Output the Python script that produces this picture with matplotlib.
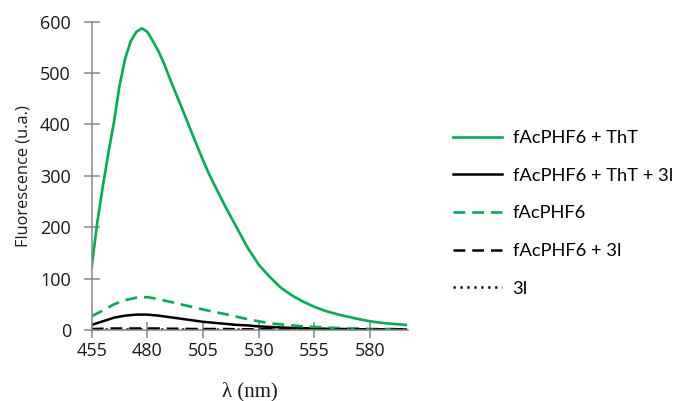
import numpy as np
import matplotlib
matplotlib.use("Agg")
import matplotlib.pyplot as plt

plt.rcParams["font.family"] = ["Open Sans", "DejaVu Sans"]
plt.rcParams["lines.scale_dashes"] = False

# wavelengths (nm)
wl_fine = [455, 457.5, 460, 462.5, 465, 467.5, 470, 472.5, 475, 477.5, 480,
           482.5, 485, 487.5, 490, 492.5, 495, 497.5, 500, 502.5, 505, 507.5,
           510, 515, 520, 525, 530, 535, 540, 545, 550, 555, 560, 565, 570,
           575, 580, 585, 590, 596]
wl = [455, 460, 465, 470, 475, 480, 485, 490, 495, 500, 505, 510, 515, 520,
      525, 530, 535, 540, 545, 550, 555, 560, 565, 570, 575, 580, 585, 590, 596]

tht = [123, 210, 280, 345, 405, 476, 528, 562, 580, 587, 580,
       562, 542, 518, 490, 463, 437, 410, 383, 356, 330, 305,
       283, 240, 200, 160, 127, 103, 82, 67, 55, 45, 37, 31, 26,
       21, 17, 14, 12, 10]
tht_3l = [10, 17, 24, 28, 30, 30, 28, 25, 22, 19, 16, 14, 12, 10,
          9, 7, 6, 5, 4, 3.5, 3, 2.5, 2, 2, 1.5, 1.5, 1, 1, 1]
phf6 = [27, 38, 50, 58, 63, 64, 60, 55, 50, 45, 40, 35, 31, 26,
        21, 17, 13, 11, 9, 7, 6, 5, 4, 3, 3, 2, 2, 2, 1]
phf6_3l = [2, 2.5, 3, 3, 3, 3, 3, 2.5, 2.5, 2, 2, 2, 2, 1.5,
           1.5, 1.5, 1.5, 1, 1, 1, 1, 1, 1, 1, 1, 1, 1, 1, 1]
only_3l = [1, 1, 1, 1, 1, 1, 1, 1, 1, 0.8, 0.8, 0.8, 0.8, 0.8,
           0.7, 0.7, 0.7, 0.6, 0.6, 0.6, 0.5, 0.5, 0.5, 0.5, 0.5, 0.5, 0.5, 0.5, 0.5]

green = "#00B050"
fig = plt.figure(figsize=(6.76, 4.01), dpi=100)
ax = fig.add_axes([0.1357, 0.177, 0.4679, 0.769])

ax.plot(wl_fine, tht, color=green, lw=1.9, label="fAcPHF6 + ThT")
ax.plot(wl, tht_3l, color="black", lw=1.8, label="fAcPHF6 + ThT + 3l")
ax.plot(wl, phf6, color=green, lw=1.9, dashes=(8.5, 5), label="fAcPHF6")
ax.plot(wl, phf6_3l, color="black", lw=1.8, dashes=(8.5, 5), label="fAcPHF6 + 3l")
ax.plot(wl, only_3l, color="black", lw=1.8, dashes=(1.6, 3.4), label="3l")

ax.set_xlim(455, 597)
ax.set_ylim(0, 600)
ax.set_xticks([455, 480, 505, 530, 555, 580])
ax.set_yticks(range(0, 601, 100))
for s in ["top", "right"]:
    ax.spines[s].set_visible(False)
for s in ["left", "bottom"]:
    ax.spines[s].set_color("#868686")
    ax.spines[s].set_linewidth(1.1)
ax.tick_params(direction="inout", length=11, width=1.1, color="#868686",
               labelsize=13, labelcolor="#1a1a1a")
ax.tick_params(axis="y", pad=9.5)
ax.tick_params(axis="x", pad=3)

ax.set_ylabel("Fluorescence (u.a.)", fontsize=11.8, color="#1a1a1a", labelpad=6)
ax.set_xlabel("λ (nm)", fontsize=15, family=["Liberation Serif", "DejaVu Serif"],
              color="#1a1a1a", labelpad=16)

fig.legend(loc="center left", bbox_to_anchor=(0.67, 0.4676), frameon=False,
           prop={"family": ["Lato", "DejaVu Sans"], "size": 13.2},
           handlelength=2.7, handletextpad=0.55,
           labelspacing=1.18, borderaxespad=0, borderpad=0)

fig.savefig("out.png", dpi=100)
